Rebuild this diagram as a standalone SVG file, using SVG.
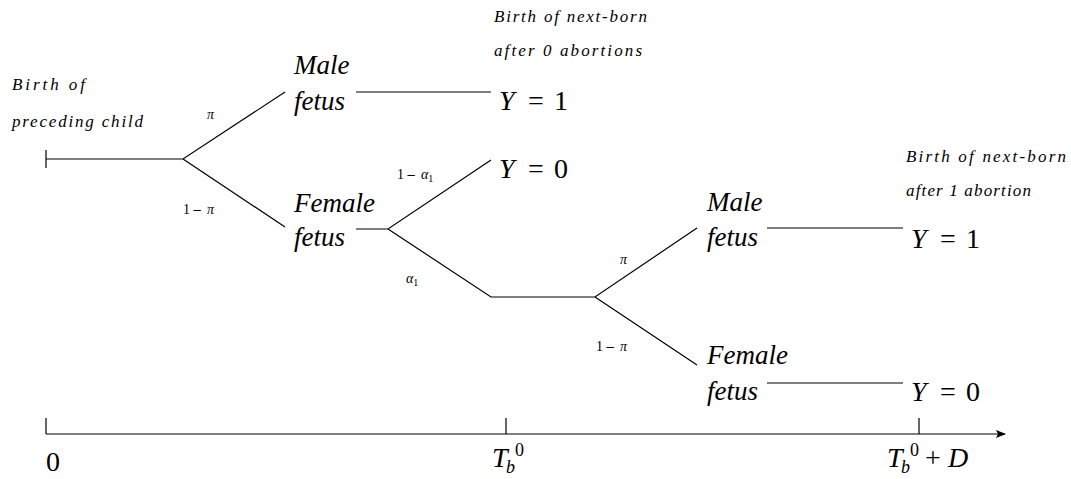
<svg xmlns="http://www.w3.org/2000/svg" width="1071" height="479" viewBox="0 0 1071 479">
<style>
.l{stroke:#000;stroke-width:1.2;fill:none}
.big{font-family:"Liberation Serif",serif;font-style:italic;font-size:27px;fill:#000}
.m{font-family:"Liberation Serif",serif;font-size:28px;fill:#000}
.i{font-style:italic}
.note{font-family:"Liberation Serif",serif;font-style:italic;font-size:17px;fill:#000}
.sm{font-family:"Liberation Serif",serif;font-size:14px;fill:#000}
.mn{font-family:"DejaVu Sans",sans-serif;font-size:12px}
</style>
<defs>
<marker id="ah" markerWidth="10" markerHeight="8" refX="9" refY="4" orient="auto" markerUnits="userSpaceOnUse">
<path d="M0,0 L10,4 L0,8 L2,4 Z" fill="#000"/>
</marker>
</defs>
<g id="connectors">
<path class="l" d="M46,150 V168 M46,159 H183 L285,92 M183,159 L285,227"/>
<path class="l" d="M356,92 H491"/>
<path class="l" d="M356,229 H388 L491,160 M388,229 L491,297 H595 L697,228 M595,297 L697,365"/>
<path class="l" d="M767,228 H903"/>
<path class="l" d="M767,383 H903"/>
<path class="l" d="M46,434 H1005" marker-end="url(#ah)"/>
<path class="l" d="M46,418 V434 M506,418 V434 M919,418 V434"/>
</g>
<g id="start"><text class="note" x="12" y="90" textLength="73" lengthAdjust="spacing">Birth of</text><text class="note" x="12" y="127" textLength="131" lengthAdjust="spacing">preceding child</text></g>
<g id="male1"><text class="big" x="294" y="74">Male</text><text class="big" x="294" y="110">fetus</text></g>
<g id="female1"><text class="big" x="294" y="212">Female</text><text class="big" x="294" y="246">fetus</text></g>
<g id="y1a"><text class="note" x="494" y="22" textLength="153" lengthAdjust="spacing">Birth of next-born</text><text class="note" x="494" y="56" textLength="148" lengthAdjust="spacing">after 0 abortions</text>
<text class="m" y="110"><tspan class="i" x="499">Y</tspan><tspan x="528">=</tspan><tspan x="554">1</tspan></text></g>
<g id="y0a"><text class="m" y="178"><tspan class="i" x="499">Y</tspan><tspan x="528">=</tspan><tspan x="554">0</tspan></text></g>
<g id="male2"><text class="big" x="707" y="211">Male</text><text class="big" x="707" y="246">fetus</text></g>
<g id="female2"><text class="big" x="707" y="364">Female</text><text class="big" x="707" y="400">fetus</text></g>
<g id="y1b"><text class="note" x="906" y="162" textLength="160" lengthAdjust="spacing">Birth of next-born</text><text class="note" x="906" y="196" textLength="125" lengthAdjust="spacing">after 1 abortion</text>
<text class="m" y="248"><tspan class="i" x="911">Y</tspan><tspan x="940">=</tspan><tspan x="966">1</tspan></text></g>
<g id="y0b"><text class="m" y="401"><tspan class="i" x="911">Y</tspan><tspan x="940">=</tspan><tspan x="966">0</tspan></text></g>
<g id="labels">
<text class="sm" y="119"><tspan class="i" x="207">π</tspan></text>
<text class="sm" y="214"><tspan x="183">1</tspan><tspan class="mn" x="192">−</tspan><tspan class="i" x="207">π</tspan></text>
<text class="sm" y="179"><tspan x="397">1</tspan><tspan class="mn" x="406">−</tspan><tspan class="i" x="421">α</tspan><tspan font-size="10" dy="3">1</tspan></text>
<text class="sm" y="283"><tspan class="i" x="406">α</tspan><tspan font-size="10" dy="3">1</tspan></text>
<text class="sm" y="264"><tspan class="i" x="620">π</tspan></text>
<text class="sm" y="351"><tspan x="596">1</tspan><tspan class="mn" x="605">−</tspan><tspan class="i" x="620">π</tspan></text>
</g>
<g id="axis-labels">
<text class="m" x="46" y="471">0</text>
<text class="m" y="467"><tspan class="i" x="492">T</tspan><tspan class="i" font-size="18" x="506" dy="6">b</tspan><tspan font-size="18" x="515" dy="-17">0</tspan></text>
<text class="m" y="467"><tspan class="i" x="887">T</tspan><tspan class="i" font-size="18" x="901" dy="6">b</tspan><tspan font-size="18" x="910" dy="-17">0</tspan><tspan x="925" dy="11">+</tspan><tspan class="i" x="948">D</tspan></text>
</g>
</svg>
